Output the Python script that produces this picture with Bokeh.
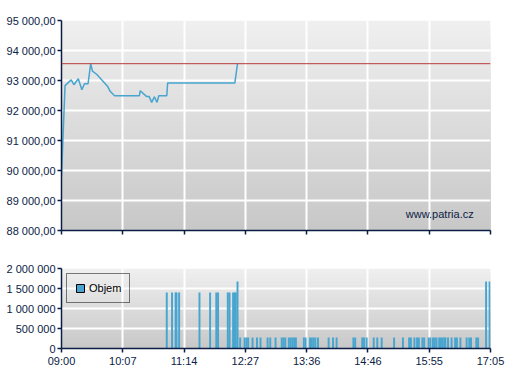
from bokeh.plotting import figure
from bokeh.models import Range1d, FixedTicker, Span, Label, Legend, LegendItem, BoxAnnotation
from bokeh.layouts import column
from bokeh.embed import file_html
from bokeh.resources import INLINE

# ---------------- data ----------------
x_tick_labels = ["09:00", "10:07", "11:14", "12:27", "13:36", "14:46", "15:55", "17:05"]
session_start = "09:00"
session_end = "17:05"

price_times = ["09:00", "09:04", "09:11", "09:14", "09:19", "09:23", "09:26", "09:30",
               "09:33", "09:35", "09:40", "09:52", "09:55", "10:00", "10:28", "10:29",
               "10:36", "10:39", "10:42", "10:45", "10:48", "10:50", "10:59", "11:00",
               "12:16", "12:19"]
price_values = [89800, 92830, 93020, 92860, 93060, 92690, 92890, 92890,
                93560, 93310, 93200, 92810, 92640, 92490, 92490, 92660,
                92470, 92470, 92270, 92460, 92270, 92490, 92490, 92920,
                92920, 93560]
reference_price = 93560

vol_times = ["10:59", "11:05", "11:09", "11:10", "11:13", "11:36", "11:48", "11:55", "11:57",
             "12:08", "12:10", "12:14", "12:16", "12:17", "12:19",
             "12:22", "12:27", "12:29", "12:31", "12:36", "12:41", "12:45", "12:53", "12:56",
             "13:02", "13:09", "13:11", "13:13", "13:17", "13:19", "13:21", "13:23", "13:25",
             "13:34", "13:36", "13:41", "13:43", "13:45", "13:47", "13:50", "14:02", "14:07",
             "14:11", "14:30", "14:32", "14:40", "14:42", "14:45", "14:53", "14:57", "15:02",
             "15:16", "15:26", "15:33", "15:35", "15:39", "15:42", "15:44", "15:48", "15:50",
             "15:55", "15:57", "16:00", "16:02", "16:04", "16:07", "16:09", "16:11", "16:13",
             "16:14", "16:17", "16:21", "16:25", "16:27", "16:31", "16:38", "16:41", "16:43",
             "16:49", "16:51", "17:00", "17:04"]
vol_values = [1400000] * 14 + [1675000] + [275000] * 65 + [1675000, 1675000]

price_ticks = [88000, 89000, 90000, 91000, 92000, 93000, 94000, 95000]
vol_ticks = [0, 500000, 1000000, 1500000, 2000000]

# ---------------- helpers ----------------
NAVY = "#0b1c45"
BLUE = "#47a5cf"
FONT = "Liberation Sans"


def to_min(t):
    h, m = t.split(":")
    return (int(h) - 9) * 60 + int(m)


x0 = to_min(session_start)
x1 = to_min(session_end)
n_ticks = len(x_tick_labels)
x_tick_pos = [x0 + (x1 - x0) * k / (n_ticks - 1) for k in range(n_ticks)]
x_overrides = {p: lab for p, lab in zip(x_tick_pos, x_tick_labels)}


def fmt_price(v):
    return f"{v:,.2f}".replace(",", " ").replace(".", ",")


def fmt_vol(v):
    return f"{v:,d}".replace(",", " ")


def add_gradient(p, y0, y1, top=239, bottom=200, n=40):
    # nested boxes, drawn from the top band downwards, so no seams appear
    for i in reversed(range(n)):
        t = y0 + (y1 - y0) * (i + 1) / n
        frac = (i + 0.5) / n
        g = round(bottom + (top - bottom) * frac)
        p.add_layout(BoxAnnotation(bottom=y0, top=t, fill_color=(g, g, g), fill_alpha=1,
                                   line_color=None, level="image"))


def style(p):
    p.outline_line_color = None
    p.background_fill_color = None
    p.border_fill_color = "white"
    for ax in p.axis:
        ax.axis_line_color = NAVY
        ax.axis_line_width = 1.5
        ax.major_tick_line_color = NAVY
        ax.major_tick_line_width = 1.5
        ax.major_tick_in = 0
        ax.major_tick_out = 4
        ax.minor_tick_line_color = None
        ax.major_label_text_font = FONT
        ax.major_label_text_font_size = "11px"
        ax.major_label_text_color = NAVY
        ax.major_label_standoff = 2
    for g in p.grid:
        g.grid_line_color = "white"
        g.grid_line_width = 2


# ---------------- price chart ----------------
p1 = figure(width=507, height=248, output_backend="svg", toolbar_location=None,
            x_range=Range1d(x0, x1), y_range=Range1d(price_ticks[0], price_ticks[-1]),
            min_border_left=61, min_border_right=17, min_border_top=20, min_border_bottom=18)
style(p1)
p1.xaxis.ticker = FixedTicker(ticks=x_tick_pos)
p1.xgrid.ticker = FixedTicker(ticks=x_tick_pos)
p1.xaxis.major_label_overrides = {p: "" for p in x_tick_pos}
p1.yaxis.ticker = FixedTicker(ticks=price_ticks)
p1.yaxis.major_label_overrides = {v: fmt_price(v) for v in price_ticks}
add_gradient(p1, price_ticks[0], price_ticks[-1])

p1.add_layout(Span(location=reference_price, dimension="width", line_color="#b83a3a", line_width=1))
p1.line([to_min(t) for t in price_times], price_values, line_color=BLUE, line_width=1.5)
p1.add_layout(Label(x=466, y=88557, text="www.patria.cz", text_align="right",
                    text_baseline="middle", text_font=FONT, text_font_size="11px",
                    text_color=NAVY))

# ---------------- volume chart ----------------
p2 = figure(width=507, height=130, output_backend="svg", toolbar_location=None,
            x_range=Range1d(x0, x1), y_range=Range1d(vol_ticks[0], vol_ticks[-1]),
            min_border_left=61, min_border_right=17, min_border_top=20, min_border_bottom=30)
style(p2)
p2.xaxis.ticker = FixedTicker(ticks=x_tick_pos)
p2.xgrid.ticker = FixedTicker(ticks=x_tick_pos)
p2.xaxis.major_label_overrides = x_overrides
p2.yaxis.ticker = FixedTicker(ticks=vol_ticks)
p2.yaxis.major_label_overrides = {v: fmt_vol(v) for v in vol_ticks}
add_gradient(p2, vol_ticks[0], vol_ticks[-1])

p2.vbar(x=[to_min(t) for t in vol_times], top=vol_values, width=2.2,
        fill_color=BLUE, line_color=None)
# legend swatch only (placed outside the visible range)
dummy = p2.vbar(x=[x0 - 100], top=[vol_ticks[-1]], width=1, fill_color=BLUE,
                line_color="black", line_width=1)
legend = Legend(items=[LegendItem(label="Objem", renderers=[dummy])], location="top_left",
                border_line_color="black", border_line_width=1, background_fill_alpha=0,
                padding=8, spacing=0, margin=5, glyph_width=10, glyph_height=10,
                label_height=12, label_standoff=4, label_text_font=FONT,
                label_text_font_size="11px", label_text_color="black")
p2.add_layout(legend)

layout = column(p1, p2, spacing=0)
open("out.html", "w").write(file_html(layout, INLINE))
